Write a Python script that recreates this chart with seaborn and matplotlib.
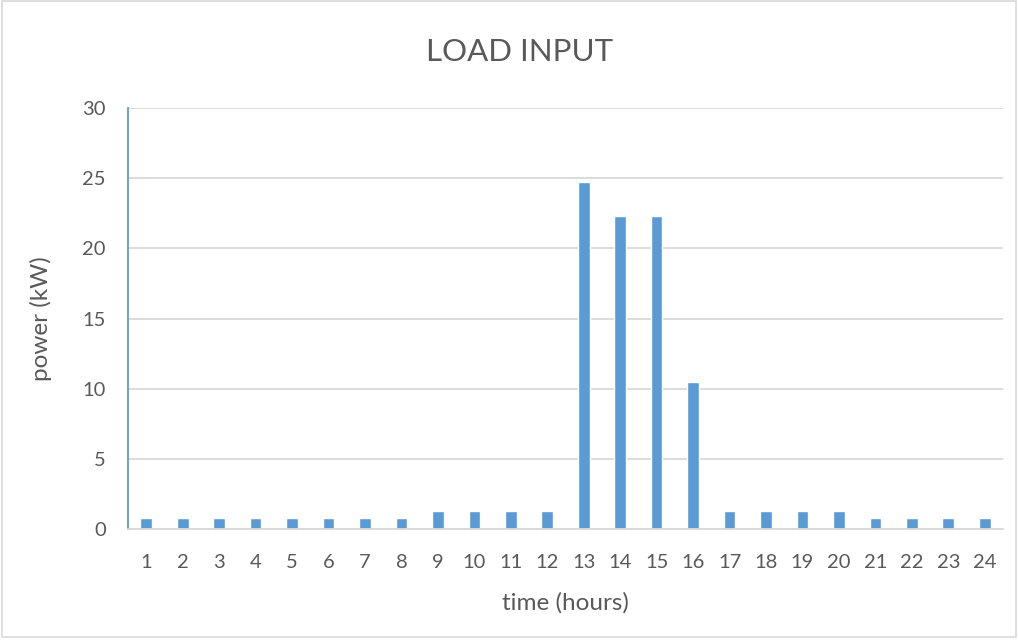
import matplotlib
matplotlib.use("Agg")
import matplotlib.pyplot as plt
import seaborn as sns
import pandas as pd
from matplotlib.patches import Rectangle

hours = [str(h) for h in range(1, 25)]
power_kw = [0.8, 0.8, 0.8, 0.8, 0.8, 0.8, 0.8, 0.8,
            1.3, 1.3, 1.3, 1.3,
            24.7, 22.3, 22.3, 10.5,
            1.3, 1.3, 1.3, 1.3,
            0.8, 0.8, 0.8, 0.8]
y_ticks = [0, 5, 10, 15, 20, 25, 30]

df = pd.DataFrame({"hour": hours, "power": power_kw})

sns.set_theme(style="white")
plt.rcParams['font.family'] = ['Lato', 'DejaVu Sans']

TXT = "#595959"
GRID = "#D9D9D9"
BAR = "#5B9BD5"

fig = plt.figure(figsize=(10.2, 6.4), dpi=100)
fig.patches.append(Rectangle((0.002, 0.004), 0.994, 0.994, transform=fig.transFigure,
                             fill=False, edgecolor=GRID, linewidth=1.2))
ax = fig.add_axes([128/1020, 1 - 529/640, (1003 - 128)/1020, (529 - 108)/640])

sns.barplot(data=df, x="hour", y="power", order=hours, color=BAR, width=0.32,
            saturation=1, ax=ax)

ax.set_ylim(0, 30)
ax.set_yticks(y_ticks)
ax.set_xlim(-0.5, 23.5)
ax.yaxis.grid(True, color=GRID, linewidth=1.3)
ax.set_axisbelow(True)
for s in ["top", "right"]:
    ax.spines[s].set_visible(False)
ax.spines["bottom"].set_color(GRID)
ax.spines["bottom"].set_linewidth(1.3)
ax.spines["left"].set_color(BAR)
ax.spines["left"].set_linewidth(1.3)
ax.tick_params(axis="both", length=0, labelsize=14.5, colors=TXT)
ax.tick_params(axis="x", pad=18)
ax.tick_params(axis="y", pad=16)

ax.set_xlabel("time (hours)", fontsize=17.5, color=TXT, labelpad=15)
ax.set_ylabel("power (kW)", fontsize=17.5, color=TXT, labelpad=22)

fig.text(520/1020, 1 - 52/640, "LOAD INPUT", ha="center", va="center",
         fontsize=22.5, color=TXT)

fig.savefig("out.png", dpi=100)
